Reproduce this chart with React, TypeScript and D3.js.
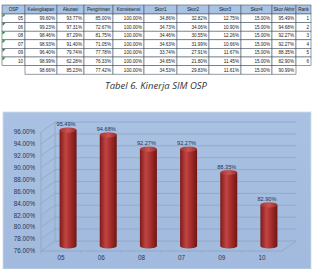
import React from "react";
import * as d3 from "d3";

const headers = ["OSP", "Kelengkapan", "Akurasi", "Pengiriman", "Konsistensi", "Skor1", "Skor2", "Skor3", "Skor4", "Skor Akhir", "Rank"];
const osp = ["05", "06", "08", "07", "09", "10"];
const kelengkapan = ["99.60%", "99.23%", "98.46%", "98.93%", "96.40%", "98.99%"];
const akurasi = ["93.77%", "97.31%", "87.29%", "91.40%", "79.74%", "62.28%"];
const pengiriman = ["85.00%", "72.67%", "81.75%", "71.05%", "77.78%", "76.33%"];
const konsistensi = ["100.00%", "100.00%", "100.00%", "100.00%", "100.00%", "100.00%"];
const skor1 = ["34.86%", "34.73%", "34.46%", "34.63%", "33.74%", "34.65%"];
const skor2 = ["32.82%", "34.06%", "30.55%", "31.99%", "27.91%", "21.80%"];
const skor3 = ["12.75%", "10.90%", "12.26%", "10.66%", "11.67%", "11.45%"];
const skor4 = ["15.00%", "15.00%", "15.00%", "15.00%", "15.00%", "15.00%"];
const skorAkhir = ["95.49%", "94.68%", "92.27%", "92.27%", "88.35%", "82.90%"];
const rank = ["1", "2", "3", "4", "5", "6"];
const totals = ["", "98.66%", "85.23%", "77.42%", "100.00%", "34.53%", "29.83%", "11.61%", "15.00%", "90.99%", ""];

const caption = "Tabel 6.  Kinerja SIM OSP";

const categories = ["05", "06", "08", "07", "09", "10"];
const values = [95.49, 94.68, 92.27, 92.27, 88.35, 82.9];
const yTicks = [76, 78, 80, 82, 84, 86, 88, 90, 92, 94, 96];

const colEdges = [2, 25, 57, 84, 113, 144, 177, 209, 241, 272, 296, 311];

export default function App() {
  const cols = [osp, kelengkapan, akurasi, pengiriman, konsistensi, skor1, skor2, skor3, skor4, skorAkhir, rank];
  const headTop = 5;
  const headH = 9;
  const rowH = 8.6;

  const x0 = 41, x1 = 282;
  const dx = 14, dy = -10;
  const y = d3.scaleLinear().domain([76, 96]).range([251, 132]);
  const xb = d3.scaleBand().domain(categories).range([x0, x1]);
  const barW = 17;
  const ry = 2.6;
  const fmt = (v: number) => d3.format(".2f")(v) + "%";

  const tableEls: React.ReactNode[] = [];
  for (let c = 0; c < headers.length; c++) {
    const xa = colEdges[c], xz = colEdges[c + 1];
    tableEls.push(
      <g key={"h" + c}>
        <rect x={xa} y={headTop} width={xz - xa} height={headH} fill="#a9c3e6" stroke="#4d5966" strokeWidth={0.6} />
        <text x={(xa + xz) / 2} y={headTop + headH / 2 + 1.7} fontSize={4.6} textAnchor="middle" fill="#1a1a1a">{headers[c]}</text>
      </g>
    );
    for (let r = 0; r < osp.length; r++) {
      const yt = headTop + headH + r * rowH;
      tableEls.push(
        <g key={"c" + c + "-" + r}>
          <rect x={xa} y={yt} width={xz - xa} height={rowH} fill="#ffffff" stroke="#4d5966" strokeWidth={0.6} />
          <text x={xz - 2} y={yt + rowH / 2 + 1.7} fontSize={4.6} textAnchor="end" fill="#1a1a1a">{cols[c][r]}</text>
          {c === 0 ? <path d={`M${xa + 0.5},${yt + 0.5}L${xa + 3.5},${yt + 0.5}L${xa + 0.5},${yt + 3.5}Z`} fill="#1e8a2e" /> : null}
        </g>
      );
    }
    if (totals[c] !== "") {
      const yt = headTop + headH + osp.length * rowH;
      tableEls.push(
        <g key={"t" + c}>
          <rect x={xa} y={yt} width={xz - xa} height={rowH} fill="#ffffff" stroke="#4d5966" strokeWidth={0.6} />
          <text x={xz - 2} y={yt + rowH / 2 + 1.7} fontSize={4.6} textAnchor="end" fill="#1a1a1a">{totals[c]}</text>
        </g>
      );
    }
  }

  return (
    <svg width={313} height={269} style={{ position: "absolute", left: 0, top: 0 }} fontFamily="'Liberation Sans', Arial, sans-serif">
      <defs>
        <linearGradient id="cyl" x1="0" x2="1" y1="0" y2="0">
          <stop offset="0" stopColor="#7d1a19" />
          <stop offset="0.35" stopColor="#c04543" />
          <stop offset="0.6" stopColor="#a9302e" />
          <stop offset="1" stopColor="#6f1614" />
        </linearGradient>
        <linearGradient id="cylTop" x1="0" x2="1" y1="0" y2="0">
          <stop offset="0" stopColor="#a8302e" />
          <stop offset="0.5" stopColor="#c85552" />
          <stop offset="1" stopColor="#9a2a28" />
        </linearGradient>
        <linearGradient id="bg" x1="0" x2="0" y1="0" y2="1">
          <stop offset="0" stopColor="#a9c1e2" />
          <stop offset="1" stopColor="#a1badd" />
        </linearGradient>
      </defs>
      <rect x={0} y={0} width={313} height={269} fill="#ffffff" />
      {tableEls}
      <text x={156} y={89} fontSize={9.5} fontStyle="italic" textAnchor="middle" fill="#333333" fontFamily="'Open Sans', 'Liberation Sans', sans-serif">{caption}</text>

      <rect x={3} y={112} width={308} height={157} fill="url(#bg)" stroke="#d4dbe6" strokeWidth={0.8} />

      {yTicks.map((t) => (
        <path key={"g" + t} d={`M${x0},${y(t)}L${x0 + dx},${y(t) + dy}L${x1 + dx},${y(t) + dy}`} fill="none" stroke="#8ea2bc" strokeWidth={0.7} />
      ))}
      <line x1={x0} x2={x0} y1={y(96)} y2={y(76)} stroke="#8ea2bc" strokeWidth={0.7} />
      <line x1={x0 + dx} x2={x0 + dx} y1={y(96) + dy} y2={y(76) + dy} stroke="#8ea2bc" strokeWidth={0.7} />
      <path d={`M${x0},${y(76)}L${x1},${y(76)}L${x1 + dx},${y(76) + dy}`} fill="none" stroke="#8ea2bc" strokeWidth={0.7} />
      {categories.map((c, i) => (
        <line key={"tk" + i} x1={(xb(c) as number)} x2={(xb(c) as number)} y1={y(76)} y2={y(76) + 2.5} stroke="#8ea2bc" strokeWidth={0.7} />
      ))}

      {yTicks.map((t) => (
        <text key={"yl" + t} x={35} y={y(t) + 2.2} fontSize={6.3} textAnchor="end" fill="#2a3550">{fmt(t)}</text>
      ))}

      {categories.map((c, i) => {
        const cx = (xb(c) as number) + xb.bandwidth() / 2 + dx / 2;
        const yTop = y(values[i]) + dy / 2;
        const yBot = y(76) + dy / 2;
        return (
          <g key={"b" + c}>
            <path d={`M${cx - barW / 2},${yTop}L${cx - barW / 2},${yBot}A${barW / 2},${ry} 0 0 0 ${cx + barW / 2},${yBot}L${cx + barW / 2},${yTop}Z`} fill="url(#cyl)" />
            <ellipse cx={cx} cy={yTop} rx={barW / 2} ry={ry} fill="url(#cylTop)" />
            <text x={cx - 2} y={yTop - 4} fontSize={5.6} textAnchor="middle" fill="#1f3358">{fmt(values[i])}</text>
          </g>
        );
      })}

      {categories.map((c) => (
        <text key={"xl" + c} x={(xb(c) as number) + xb.bandwidth() / 2} y={260} fontSize={6.3} textAnchor="middle" fill="#2a3550">{c}</text>
      ))}
    </svg>
  );
}
